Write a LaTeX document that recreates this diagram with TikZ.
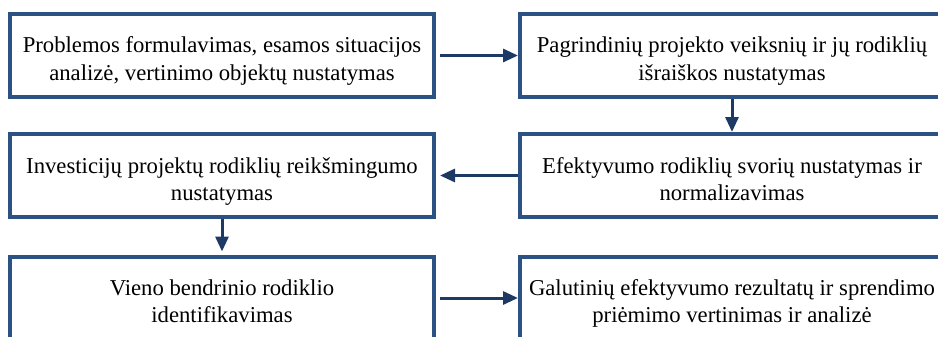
\documentclass[tikz,border=0pt]{standalone}
\usepackage{fontspec}
\setmainfont{Liberation Serif}
\usepackage{tikz}
\usetikzlibrary{arrows.meta, positioning}
\definecolor{boxblue}{RGB}{44,82,132}
\definecolor{deepblue}{RGB}{28,58,100}

\begin{document}
\begin{tikzpicture}[
  x=0.5pt, y=-0.5pt,
  >={Triangle[length=7.5pt, width=6.5pt]},
  every node/.style={font=\fontsize{11.35}{13.5}\selectfont},
  stage/.style={rectangle, draw=boxblue, line width=2pt, fill=white, align=center,
                minimum width=212pt, minimum height=41.5pt, inner sep=0pt,
                text height=27pt, text depth=2.5pt},
  flow/.style={->, line width=1.5pt, deepblue}
]
\useasboundingbox (0,0) rectangle (938,337);
\clip (0,0) rectangle (938,337);
% stages, read row by row
\node[stage] (formul) at (222,55.5) {Problemos formulavimas, esamos situacijos\\analizė, vertinimo objektų nustatymas};
\node[stage] (veiks) at (732,55.5) {Pagrindinių projekto veiksnių ir jų rodiklių\\išraiškos nustatymas};
\node[stage] (reiksm) at (222,175.5) {Investicijų projektų rodiklių reikšmingumo\\nustatymas};
\node[stage] (svoriai) at (732,175.5) {Efektyvumo rodiklių svorių nustatymas ir\\normalizavimas};
\node[stage] (bendr) at (222,298) {Vieno bendrinio rodiklio\\identifikavimas};
\node[stage] (galut) at (732,298) {Galutinių efektyvumo rezultatų ir sprendimo\\priėmimo vertinimas ir analizė};
% connectors
\draw[flow, shorten <=2pt] (formul) -- (veiks);
\draw[flow] (veiks) -- (svoriai);
\draw[flow, shorten >=2pt] (svoriai) -- (reiksm);
\draw[flow, shorten >=1.5pt] (reiksm) -- (bendr);
\draw[flow, shorten <=2pt] (bendr) -- (galut);
\end{tikzpicture}
\end{document}
